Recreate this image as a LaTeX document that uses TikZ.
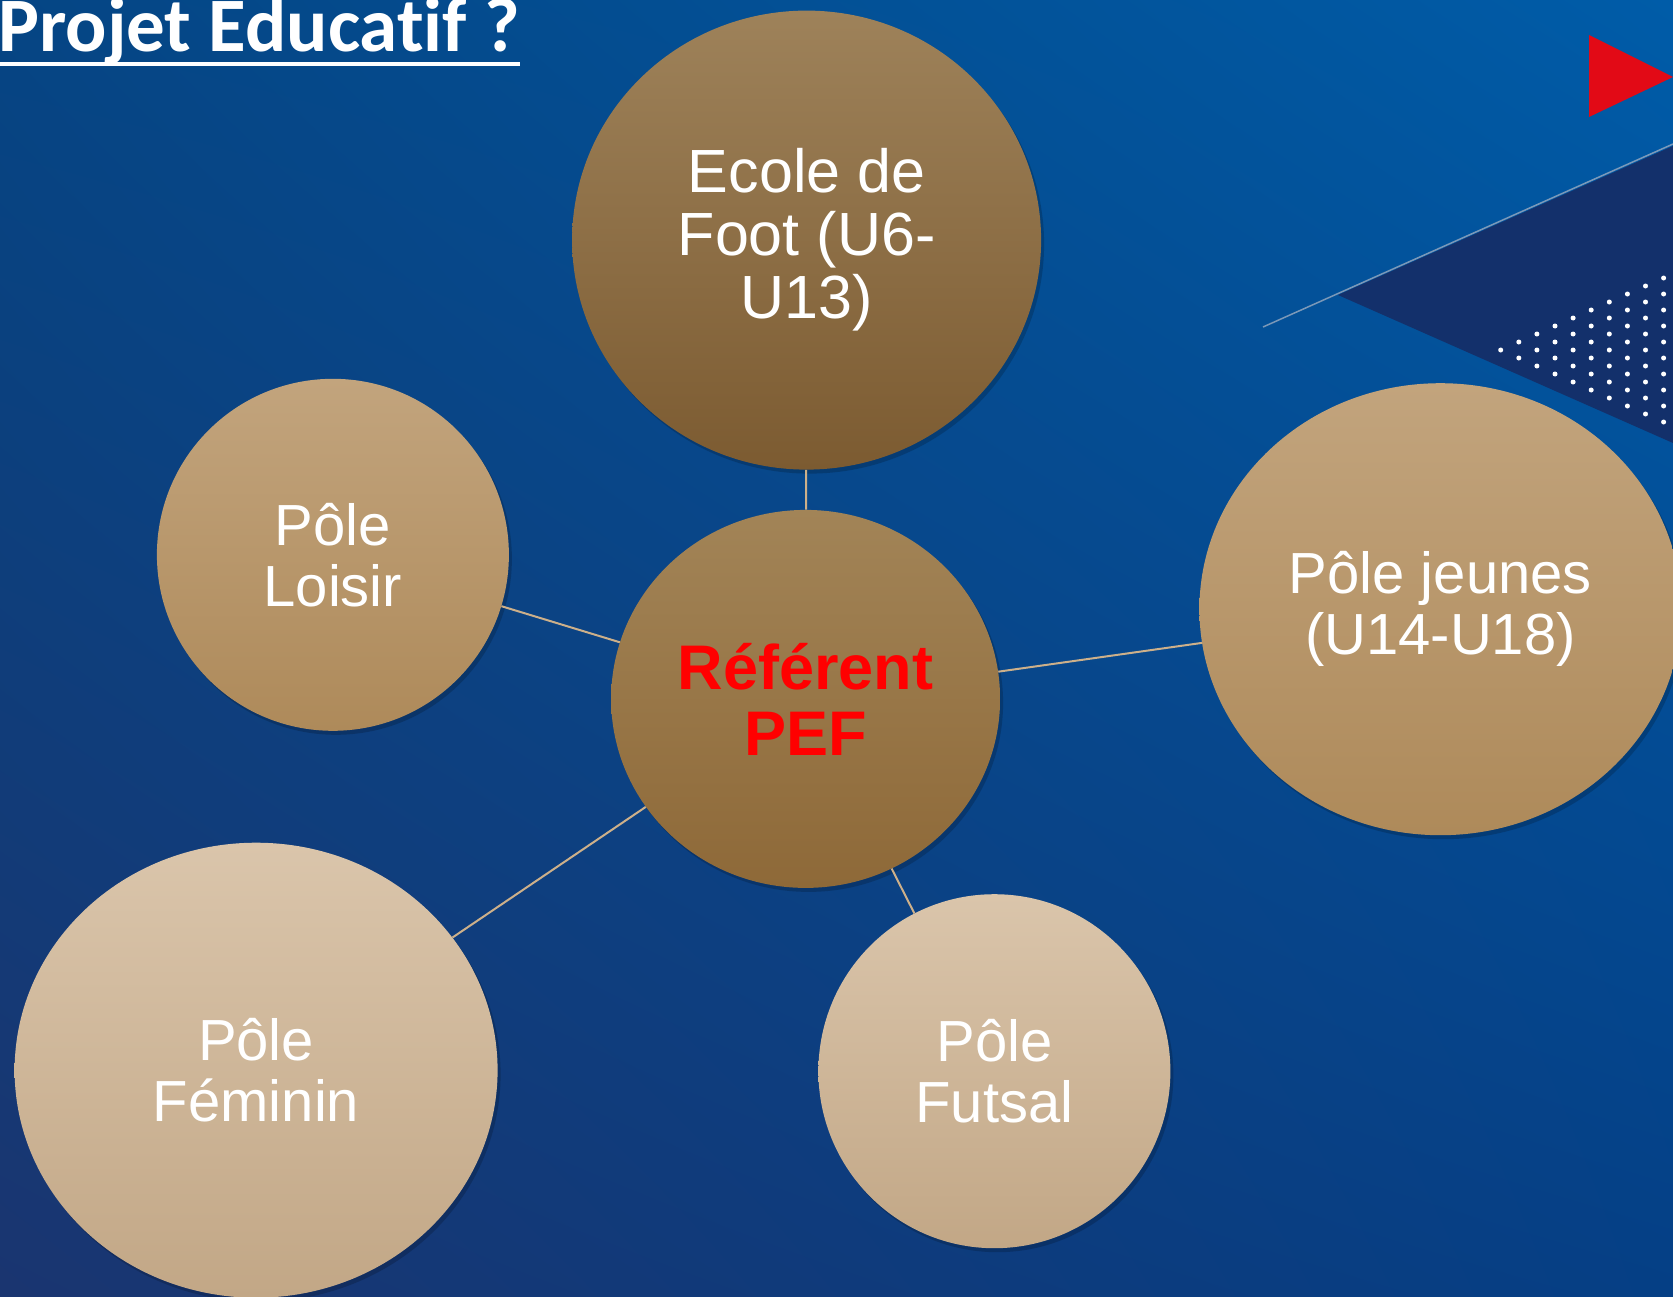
\documentclass[tikz,border=0pt]{standalone}
\usepackage{fontspec}
\setmainfont{Liberation Sans}
\newfontfamily\titlefont[Ligatures=NoCommon]{Carlito}
\usetikzlibrary{shapes.geometric,shadows,shadings}
\definecolor{bgtl}{HTML}{054584}
\definecolor{bgtr}{HTML}{005CA8}
\definecolor{bgbl}{HTML}{1A3570}
\definecolor{bgbr}{HTML}{053F85}
\definecolor{navy}{HTML}{13306B}
\definecolor{flag}{HTML}{E20A16}
\definecolor{streak}{HTML}{9AAAC0}
\definecolor{darktop}{HTML}{9E825A}
\definecolor{darkbot}{HTML}{7C5B31}
\definecolor{midtop}{HTML}{A28457}
\definecolor{midbot}{HTML}{8E6938}
\definecolor{tantop}{HTML}{C2A47D}
\definecolor{tanbot}{HTML}{AE8A5A}
\definecolor{sandtop}{HTML}{DAC5AB}
\definecolor{sandbot}{HTML}{C2A786}
\definecolor{linkcol}{HTML}{CDB08A}
\definecolor{pefred}{HTML}{FF0000}
\begin{document}
\begin{tikzpicture}[x=1pt,y=-1pt,
    bubble/.style={ellipse,draw=none,inner sep=0pt,align=center,text=white,
      font=\fontsize{58}{61}\selectfont,
      drop shadow={shadow xshift=3pt,shadow yshift=-4pt,opacity=0.18,fill=black}},
    darkbubble/.style={bubble,top color=darktop,bottom color=darkbot},
    midbubble/.style={bubble,top color=midtop,bottom color=midbot},
    tanbubble/.style={bubble,top color=tantop,bottom color=tanbot},
    sandbubble/.style={bubble,top color=sandtop,bottom color=sandbot},
    link/.style={draw=linkcol,line width=2pt}]
  \useasboundingbox (0,0) rectangle (1673,1296);
  \clip (0,0) rectangle (1673,1296);
  \shade[upper left=bgtl,upper right=bgtr,lower left=bgbl,lower right=bgbr]
    (0,0) rectangle (1673,1296);

  \fill[navy] (1338,295) -- (1673,146) -- (1673,443) -- cycle;
  \draw[streak,line width=1.5pt,opacity=0.8] (1263,327) -- (1673,144);
  \fill[flag] (1589,35) -- (1589,117) -- (1673,77) -- cycle;
  \foreach \k in {0,...,9}
    \foreach \j in {0,...,\k}
      \fill[white] (1500.7+18.1*\k,350-8*\k+16*\j) circle (2.5);

  \node[anchor=base west,inner sep=0pt,text=white,
        font=\titlefont\bfseries\fontsize{77}{77}\selectfont]
    (title) at (-2,51) {Projet Educatif ?};
  \draw[white,line width=4.3pt]
    ([yshift=-13pt]title.base west) -- ([yshift=-13pt]title.base east);

  \node[darkbubble,minimum width=469,minimum height=459,
        font=\fontsize{61}{63}\selectfont]
    (ecole) at (806.6,240.1) {Ecole de\\Foot (U6-\\U13)};
  \node[tanbubble,minimum width=352,minimum height=352]
    (loisir) at (332.9,554.8) {Pôle\\Loisir};
  \node[tanbubble,minimum width=482,minimum height=452]
    (jeunes) at (1440.4,609.2) {Pôle jeunes\\(U14-U18)};
  \node[sandbubble,minimum width=483,minimum height=455]
    (feminin) at (256.1,1070.2) {Pôle\\Féminin};
  \node[sandbubble,minimum width=352,minimum height=354]
    (futsal) at (994.4,1071.2) {Pôle\\Futsal};
  \node[midbubble,minimum width=389,minimum height=378,text=pefred,
        font=\bfseries\fontsize{63}{66}\selectfont]
    (pef) at (805.6,698.9) {Référent\\PEF};

  \begin{scope}[link]
    \draw (pef) to (ecole);
    \draw (pef) to (loisir);
    \draw (pef) to (jeunes);
    \draw (pef) to (feminin);
    \draw (pef) to (futsal);
  \end{scope}
\end{tikzpicture}
\end{document}
